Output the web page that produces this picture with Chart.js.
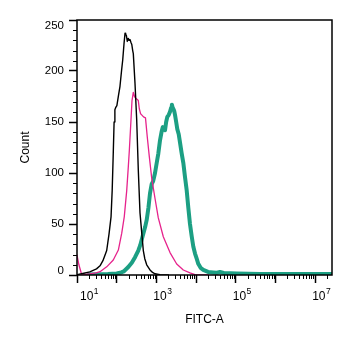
<!DOCTYPE html>
<html>
<head>
<meta charset="utf-8">
<script src="https://cdn.jsdelivr.net/npm/chart.js@4.4.1/dist/chart.umd.min.js"></script>
<style>
    html, body { margin: 0; padding: 0; background: #fff; }
</style>
</head>
<body>
<canvas id="fitcHistogram" width="353" height="347"></canvas>
<script>
// FITC-A intensity (x) and event count (y) for each of the three overlays
const blackX = [10, 14, 21, 31, 38, 45, 56, 64, 72, 77, 82, 86, 90, 94, 101, 111, 121, 133, 142, 153, 162, 168, 175, 185, 195, 205, 216, 229, 240, 253, 262, 289, 319, 350, 386, 426, 468, 510, 570, 690, 800, 923, 1233, 2000];
const blackY = [0.3, 1.5, 3, 6, 9, 14, 24, 40, 57, 83, 120, 150, 162, 164, 166, 176, 185, 201, 211, 227, 237, 236, 235, 229, 232, 230, 231, 228, 226, 220, 217, 188, 152, 103, 61, 42, 24, 16, 10, 5, 2.5, 1.2, 0.4, 0];

const pinkX = [10, 11.2, 13, 16, 21, 30, 38, 56, 82, 110, 134, 155, 179, 196, 208, 229, 243, 262, 281, 306, 330, 350, 371, 400, 426, 473, 531, 590, 663, 762, 923, 1117, 1493, 2203, 3246, 4761, 7016, 9400, 20000];
const pinkY = [19.6, 9.8, 1, 0.5, 1, 2, 3.2, 8, 14.7, 24.5, 41, 57, 83, 106, 122, 152, 171, 179, 175, 173, 172, 171, 163, 158, 157, 155, 154, 135, 116, 95, 75, 56, 37.5, 22, 10.8, 4.9, 2, 0.3, 0];

const tealX = [20, 60, 100, 130, 150, 196, 240, 290, 350, 390, 450, 520, 570, 630, 690, 760, 830, 923, 1040, 1117, 1233, 1361, 1450, 1560, 1650, 1760, 1883, 2050, 2203, 2350, 2450, 2574, 2664, 2800, 2943, 3150, 3360, 3650, 3928, 4300, 4761, 5252, 5794, 6363, 7016, 7745, 8496, 9400, 10350, 11350, 13000, 15170, 20000, 27100, 33000, 40000, 50000, 105000, 407000, 26500000];
const tealY = [0.5, 1, 1.5, 2.5, 3.5, 7.8, 12, 17.5, 24, 29, 38, 47, 54, 66, 80, 89, 92, 100, 112, 119, 132, 141, 145, 144, 142, 150, 155, 157, 160, 164, 167, 164, 163, 161, 157, 150, 143, 138, 130, 120, 110, 96, 83, 66, 50, 38, 28, 21, 16, 11, 7, 5, 3, 2.5, 2.2, 2.9, 2, 1.5, 1, 1];

// axis ranges and ticks
const xMin = 10;
const xMax = 2.65e7;
const xDecades = [1, 2, 3, 4, 5, 6, 7];
const xLabelledDecades = [1, 3, 5, 7];
const yMin = 0;
const yMax = 250;
const yMajorStep = 50;
const yMinorStep = 10;

function toPoints(xs, ys) {
    return xs.map((x, i) => ({ x: x, y: ys[i] }));
}

const fontFamily = "'Liberation Sans', Arial, sans-serif";

// minor ticks, frame, and tick labels (10 with a raised exponent, like FlowJo)
const axisDecor = {
    id: "axisDecor",
    afterDraw(chart) {
        const { ctx, chartArea: a, scales } = chart;
        const x = scales.x;
        const y = scales.y;

        ctx.save();
        ctx.strokeStyle = "#000";
        ctx.lineWidth = 1;
        ctx.beginPath();
        xDecades.forEach(d => {
            for (let m = 2; m <= 9; m++) {
                const v = m * Math.pow(10, d);
                if (v > xMax) continue;
                const px = Math.round(x.getPixelForValue(v)) + 0.5;
                ctx.moveTo(px, a.bottom);
                ctx.lineTo(px, a.bottom + 4);
            }
        });
        for (let v = yMin + yMinorStep; v < yMax; v += yMinorStep) {
            if (v % yMajorStep === 0) continue;
            const py = Math.round(y.getPixelForValue(v)) + 0.5;
            ctx.moveTo(a.left, py);
            ctx.lineTo(a.left - 4, py);
        }
        ctx.stroke();

        ctx.lineWidth = 1.5;
        ctx.strokeRect(a.left, a.top, a.right - a.left, a.bottom - a.top);

        ctx.fillStyle = "#000";
        ctx.textBaseline = "alphabetic";
        ctx.textAlign = "left";
        xLabelledDecades.forEach(d => {
            const px = x.getPixelForValue(Math.pow(10, d));
            ctx.font = "12px " + fontFamily;
            const baseW = ctx.measureText("10").width;
            ctx.font = "8.5px " + fontFamily;
            const supW = ctx.measureText(String(d)).width;
            let left = px + 6 - (baseW + supW) / 2;
            left = Math.max(left, a.left + 3);
            ctx.font = "12px " + fontFamily;
            ctx.fillText("10", left, a.bottom + 24.5);
            ctx.font = "8.5px " + fontFamily;
            ctx.fillText(String(d), left + baseW + 0.5, a.bottom + 18.5);
        });

        ctx.font = "11.5px " + fontFamily;
        ctx.textAlign = "right";
        ctx.textBaseline = "middle";
        for (let v = yMin; v <= yMax; v += yMajorStep) {
            let py = y.getPixelForValue(v);
            py = Math.min(Math.max(py, a.top + 6), a.bottom - 4);
            ctx.fillText(String(v), a.left - 13, py);
        }
        ctx.restore();
    }
};

const canvas = document.getElementById("fitcHistogram");

new Chart(canvas, {
    type: "line",
    data: {
        datasets: [
            {
                label: "Isotype",
                data: toPoints(blackX, blackY),
                borderColor: "#000000",
                borderWidth: 1.4
            },
            {
                label: "Sample 1",
                data: toPoints(pinkX, pinkY),
                borderColor: "#e6238c",
                borderWidth: 1.3
            },
            {
                label: "Sample 2",
                data: toPoints(tealX, tealY),
                borderColor: "#1c9f83",
                borderWidth: 4
            }
        ]
    },
    options: {
        responsive: false,
        animation: false,
        events: [],
        elements: {
            point: { radius: 0 },
            line: { tension: 0, borderCapStyle: "round", borderJoinStyle: "round" }
        },
        layout: {
            padding: { top: 20, right: 21, left: 0, bottom: 0 }
        },
        plugins: {
            legend: { display: false },
            tooltip: { enabled: false }
        },
        scales: {
            x: {
                type: "logarithmic",
                min: xMin,
                max: xMax,
                afterBuildTicks: scale => {
                    scale.ticks = xDecades.map(d => ({ value: Math.pow(10, d) }));
                },
                afterFit: scale => { scale.height = 72; },
                ticks: {
                    autoSkip: false,
                    maxRotation: 0,
                    callback: () => ""
                },
                grid: {
                    drawOnChartArea: false,
                    drawTicks: true,
                    tickLength: 8,
                    tickWidth: 1.5,
                    tickColor: "#000"
                },
                border: { display: false },
                title: {
                    display: true,
                    text: "FITC-A",
                    color: "#000",
                    font: { family: fontFamily, size: 12 },
                    padding: { top: 0, bottom: 20 }
                }
            },
            y: {
                min: yMin,
                max: yMax,
                afterFit: scale => { scale.width = 77; },
                ticks: {
                    stepSize: yMajorStep,
                    callback: () => ""
                },
                grid: {
                    drawOnChartArea: false,
                    drawTicks: true,
                    tickLength: 8,
                    tickWidth: 1.5,
                    tickColor: "#000"
                },
                border: { display: false },
                title: {
                    display: true,
                    text: "Count",
                    color: "#000",
                    font: { family: fontFamily, size: 12 },
                    padding: { top: 18, bottom: 0 }
                }
            }
        }
    },
    plugins: [axisDecor]
});
</script>
</body>
</html>
